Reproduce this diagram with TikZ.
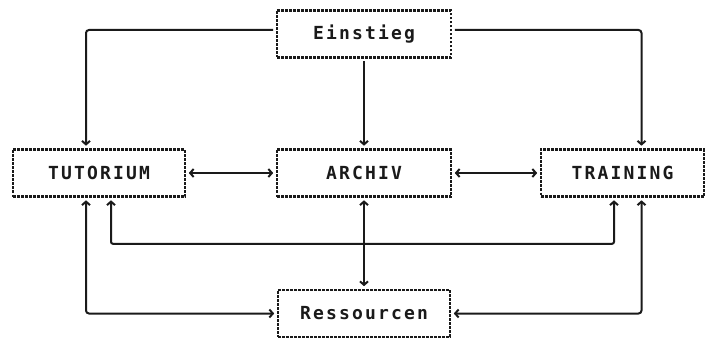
\documentclass[tikz,border=0pt]{standalone}
\usepackage{fontspec}
\newfontfamily\pixfont[LetterSpace=12]{DejaVu Sans Mono Bold}
\usetikzlibrary{arrows.meta}
\definecolor{ink}{HTML}{1A1A1A}
\begin{document}
\begin{tikzpicture}[x=1pt,y=-1pt,
  box/.style={draw=ink, line width=2.6pt, dash pattern=on 2.6pt off 1.4pt,
    minimum height=47pt, inner sep=0pt, text=ink,
    font=\pixfont\fontsize{18}{20}\selectfont},
  link/.style={draw=ink, line width=2pt, rounded corners=3pt,
    shorten <=2.5pt, shorten >=2.5pt},
  >={Straight Barb[length=3.5pt,width=8pt]}]
\useasboundingbox (0,0) rectangle (708,339);

% boxes
\node[box, minimum width=174pt] (einstieg)   at (364,34)    {Einstieg};
\node[box, minimum width=172pt] (tutorium)   at (99,173)    {TUTORIUM};
\node[box, minimum width=174pt] (archiv)     at (364,173)   {ARCHIV};
\node[box, minimum width=163pt] (training)   at (622.5,173) {TRAINING};
\node[box, minimum width=172pt] (ressourcen) at (364,313.5) {Ressourcen};

% from the entry point
\draw[link,->] ([yshift=4pt]einstieg.west) -| ([xshift=-13pt]tutorium.north);
\draw[link,->] ([yshift=4pt]einstieg.east) -| ([xshift=19pt]training.north);
\draw[link,->] (einstieg.south) -- (archiv.north);

% middle row
\draw[link,<->] (tutorium.east) -- (archiv.west);
\draw[link,<->] (archiv.east) -- (training.west);
\draw[link,<->,rounded corners=2pt] ([xshift=12pt]tutorium.south) -- ++(0,46)
  -| ([xshift=-8.5pt]training.south);

% to the resources
\draw[link,<->] (archiv.south) -- (ressourcen.north);
\draw[link,<->] ([xshift=-13pt]tutorium.south) |- (ressourcen.west);
\draw[link,<->] ([xshift=19pt]training.south) |- (ressourcen.east);
\end{tikzpicture}
\end{document}
